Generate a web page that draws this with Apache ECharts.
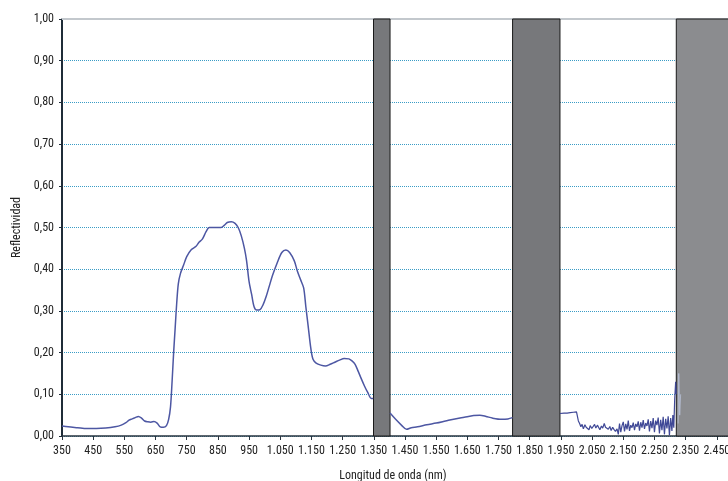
<!DOCTYPE html>
<html>
<head>
<meta charset="utf-8">
<script src="https://cdn.jsdelivr.net/npm/echarts@6/dist/echarts.min.js"></script>
<style>
  html, body { margin: 0; padding: 0; background: #fff; }
  #chart { width: 728px; height: 481px; }
</style>
</head>
<body>
<div id="chart"></div>
<script>
// espectro de reflectividad, [longitud de onda nm, reflectividad]
const visNir = [
  [350, 0.024], [370, 0.022], [400, 0.02], [430, 0.018], [460, 0.018], [490, 0.019],
  [520, 0.022], [540, 0.026], [555, 0.032], [565, 0.038], [575, 0.041], [585, 0.044],
  [595, 0.047], [605, 0.043], [615, 0.036], [625, 0.034], [635, 0.033], [645, 0.035],
  [655, 0.031], [665, 0.022], [675, 0.021], [685, 0.025], [692, 0.04], [698, 0.07],
  [703, 0.13], [708, 0.2], [713, 0.26], [718, 0.32], [723, 0.365], [730, 0.39],
  [740, 0.41], [750, 0.43], [765, 0.447], [780, 0.455], [790, 0.465], [800, 0.472],
  [812, 0.49], [822, 0.5], [840, 0.5], [860, 0.5], [870, 0.505], [880, 0.512],
  [893, 0.514], [905, 0.51], [915, 0.5], [925, 0.48], [935, 0.45], [942, 0.42],
  [950, 0.37], [958, 0.34], [966, 0.31], [975, 0.302], [985, 0.303], [995, 0.315],
  [1005, 0.335], [1015, 0.36], [1025, 0.385], [1040, 0.415], [1055, 0.44], [1068, 0.446],
  [1080, 0.44], [1095, 0.42], [1105, 0.395], [1115, 0.375], [1125, 0.355], [1132, 0.31],
  [1140, 0.26], [1148, 0.21], [1155, 0.184], [1165, 0.175], [1180, 0.17], [1195, 0.168],
  [1210, 0.172], [1225, 0.177], [1240, 0.182], [1255, 0.186], [1270, 0.185], [1280, 0.18],
  [1290, 0.172], [1300, 0.155], [1310, 0.137], [1320, 0.12], [1330, 0.105], [1342, 0.09],
  [1348, 0.09]
];
const swir1 = [
  [1402, 0.055], [1420, 0.04], [1440, 0.025], [1455, 0.016], [1470, 0.02], [1490, 0.022],
  [1520, 0.027], [1550, 0.031], [1580, 0.036], [1610, 0.041], [1640, 0.045], [1670, 0.049],
  [1690, 0.05], [1710, 0.047], [1730, 0.043], [1760, 0.04], [1780, 0.041], [1795, 0.044]
];
const swir2 = [
  [1947, 0.054], [1960, 0.055], [1970, 0.055], [1980, 0.056], [1990, 0.057], [2000, 0.058],
  [2003, 0.057], [2006, 0.036], [2010, 0.03], [2014, 0.022], [2018, 0.028], [2022, 0.017],
  [2027, 0.027], [2031, 0.021], [2035, 0.024], [2040, 0.015], [2044, 0.025], [2049, 0.018],
  [2053, 0.02], [2058, 0.028], [2062, 0.019], [2067, 0.026], [2071, 0.022], [2075, 0.015],
  [2080, 0.024], [2084, 0.019], [2089, 0.03], [2093, 0.021], [2098, 0.025], [2102, 0.016],
  [2107, 0.023], [2111, 0.013], [2116, 0.021], [2120, 0.016], [2125, 0.011], [2130, 0.017],
  [2134, 0.004], [2138, 0.03], [2142, 0.009], [2146, 0.025], [2150, 0.034], [2154, 0.011],
  [2158, 0.029], [2162, 0.016], [2166, 0.037], [2170, 0.012], [2174, 0.026], [2178, 0.02],
  [2182, 0.032], [2186, 0.014], [2190, 0.029], [2194, 0.022], [2198, 0.035], [2202, 0.013],
  [2206, 0.033], [2210, 0.02], [2214, 0.038], [2218, 0.017], [2222, 0.031], [2226, 0.024],
  [2230, 0.04], [2234, 0.011], [2238, 0.036], [2242, 0.019], [2246, 0.043], [2250, 0.009],
  [2254, 0.037], [2258, 0.026], [2262, 0.044], [2266, 0.006], [2270, 0.039], [2274, 0.014],
  [2278, 0.046], [2282, 0.004], [2286, 0.041], [2290, 0.018], [2294, 0.047], [2298, 0.002],
  [2302, 0.043], [2306, 0.012], [2309, 0.05], [2312, 0.02], [2315, 0.09], [2318, 0.13],
  [2320, 0.1]
];
const hiddenTail = [[2326, 0.03], [2328, 0.15], [2331, 0.05], [2334, 0.1]];
// bandas de absorción atmosférica (sombreadas)
const bands = [[1349, 1402], [1795, 1947], [2320, 2600]];
const bandColors = ['#77787b', '#77787b', '#8b8c8f'];

const fontFam = 'Roboto, "DejaVu Sans Condensed", sans-serif';
const lineColor = '#4d57a3';
const txt = { fontFamily: fontFam, fontStyle: 'condensed', fontSize: 12, color: '#222' };

function fmtNm(v) {
  if (v >= 1000) return Math.floor(v / 1000) + '.' + String(v % 1000).padStart(3, '0');
  return String(v);
}

const chart = echarts.init(document.getElementById('chart'), null, { renderer: 'canvas' });

chart.setOption({
  animation: false,
  backgroundColor: '#fff',
  // el gráfico original está recortado a la derecha
  grid: { left: 62, right: -20, top: 19, bottom: 45, outerBoundsMode: 'none', containLabel: false },
  xAxis: [{
    type: 'value',
    min: 350,
    max: 2550,
    interval: 100,
    name: 'Longitud de onda (nm)',
    nameLocation: 'middle',
    nameGap: 34,
    nameTextStyle: Object.assign({}, txt, { padding: [0, 24, 0, 0] }),
    axisLine: { lineStyle: { color: '#28343f', width: 1.5 } },
    axisTick: { length: 4, lineStyle: { color: '#28343f' } },
    axisLabel: Object.assign({}, txt, { margin: 9, formatter: fmtNm }),
    splitLine: { show: false }
  }, {
    type: 'value',
    position: 'top',
    min: 350,
    max: 2550,
    axisLine: { show: true, lineStyle: { color: '#c3c8cd', width: 2 } },
    axisTick: { show: false },
    axisLabel: { show: false },
    splitLine: { show: false }
  }],
  yAxis: {
    type: 'value',
    min: 0,
    max: 1,
    interval: 0.1,
    name: 'Reflectividad',
    nameLocation: 'middle',
    nameGap: 33,
    nameTextStyle: txt,
    axisLine: { show: true, lineStyle: { color: '#1f2c38', width: 2 } },
    axisTick: { show: true, length: 3, lineStyle: { color: '#1f2c38' } },
    axisLabel: Object.assign({}, txt, {
      margin: 8,
      formatter: v => v.toFixed(2).replace('.', ',')
    }),
    splitLine: { lineStyle: { color: '#3a9cc6', type: 'dotted', width: 1 } }
  },
  series: [
    {
      type: 'line',
      data: [],
      z: 3,
      markArea: {
        silent: true,
        data: bands.map((b, i) => [
          { xAxis: b[0], itemStyle: { color: bandColors[i], borderColor: '#1a1a1a', borderWidth: 1 } },
          { xAxis: b[1] }
        ])
      }
    },
    {
      type: 'line', data: visNir, smooth: 0.3, showSymbol: false, z: 4,
      lineStyle: { color: lineColor, width: 1.5 }
    },
    {
      type: 'line', data: swir1, smooth: 0.3, showSymbol: false, z: 4,
      lineStyle: { color: lineColor, width: 1.5 }
    },
    {
      type: 'line', data: swir2, showSymbol: false, z: 4,
      lineStyle: { color: '#3f4896', width: 1.2 }
    },
    {
      type: 'line', data: hiddenTail, showSymbol: false, z: 4,
      lineStyle: { color: 'rgba(190,200,225,0.7)', width: 1 }
    }
  ]
});
</script>
</body>
</html>
